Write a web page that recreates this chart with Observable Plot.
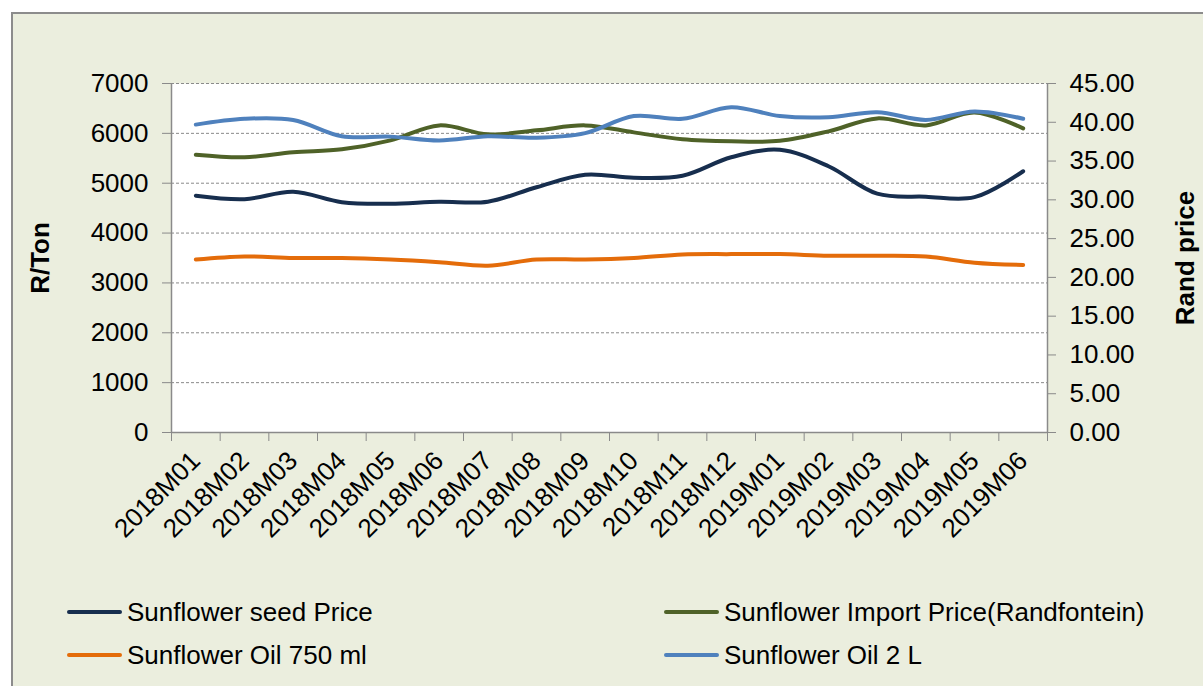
<!DOCTYPE html>
<html>
<head>
<meta charset="utf-8">
<script src="https://cdn.jsdelivr.net/npm/d3@7"></script>
<script src="https://cdn.jsdelivr.net/npm/@observablehq/plot@0.6"></script>
<style>
  html, body { margin: 0; padding: 0; background: #ffffff; width: 1203px; height: 686px; overflow: hidden; }
  #frame { position: absolute; left: 11px; top: 12px; width: 1300px; height: 800px;
           background: #ebeede; border-left: 2px solid #8c8c8c; border-top: 2px solid #8c8c8c; }
  #chart { position: absolute; left: 0; top: 0; }
  .leg { position: absolute; font-family: "Liberation Sans", Arial, sans-serif; font-size: 26px; color: #000;
         white-space: nowrap; line-height: 26px; }
  .leg .sw { position: absolute; height: 4px; border-radius: 2px; }
</style>
</head>
<body>
<div id="frame"></div>
<div id="chart"></div>
<div id="legend"></div>
<script>
const categories = ["2018M01","2018M02","2018M03","2018M04","2018M05","2018M06","2018M07","2018M08","2018M09",
                    "2018M10","2018M11","2018M12","2019M01","2019M02","2019M03","2019M04","2019M05","2019M06"];
// left axis (R/Ton)
const seedPrice   = [4750,4680,4830,4620,4590,4630,4630,4920,5170,5110,5150,5520,5670,5340,4790,4730,4720,5240];
const importPrice = [5570,5520,5620,5680,5860,6160,5980,6060,6160,6020,5880,5840,5850,6040,6300,6160,6420,6100];
// right axis (Rand price)
const oil750 = [22.3,22.7,22.5,22.5,22.3,21.95,21.5,22.3,22.3,22.5,22.95,23.0,23.0,22.8,22.8,22.7,21.9,21.6];
const oil2L  = [39.7,40.45,40.3,38.2,38.15,37.65,38.2,38.0,38.6,40.8,40.45,41.95,40.8,40.65,41.3,40.3,41.4,40.45];

const seriesNames = ["Sunflower seed Price","Sunflower Import Price(Randfontein)","Sunflower Oil 750 ml","Sunflower Oil 2 L"];
const seriesColors = ["#172e4e","#4f6228","#e46c0a","#4f81bd"];
const leftTicks = [0,1000,2000,3000,4000,5000,6000,7000];
const rightTicks = [0,5,10,15,20,25,30,35,40,45];

const K = 7000 / 45; // right-axis to left-axis units
const seriesData = [
  {name: seriesNames[0], values: seedPrice, right: false},
  {name: seriesNames[1], values: importPrice, right: false},
  {name: seriesNames[2], values: oil750, right: true},
  {name: seriesNames[3], values: oil2L, right: true}
];
const rows = [];
seriesData.forEach(s => s.values.forEach((v, i) => rows.push({series: s.name, x: i + 0.5, y: s.right ? v * K : v})));

const W = 1203, H = 590;
const grey = "#8a8a8a";
const font = "'Liberation Sans', Arial, sans-serif";
const FS = 26;

const chart = Plot.plot({
  width: W, height: H,
  marginLeft: 171, marginRight: W - 1047, marginTop: 83, marginBottom: H - 432,
  style: {background: "transparent", fontFamily: font, fontSize: FS + "px", color: "#000", overflow: "visible"},
  x: {domain: [0, categories.length], axis: null},
  y: {domain: [0, 7000], axis: null},
  color: {domain: seriesNames, range: seriesColors},
  marks: [
    Plot.frame({fill: "white", stroke: null}),
    Plot.gridY({ticks: leftTicks.slice(1), stroke: grey, strokeOpacity: 1, strokeWidth: 1, strokeDasharray: "3,2"}),
    Plot.axisY({ticks: leftTicks, tickSize: 9, tickPadding: 14, stroke: grey, fill: "#000",
                tickFormat: d => String(d), label: null, fontSize: FS}),
    Plot.axisY({anchor: "right", ticks: rightTicks.map(t => t * K), tickSize: 8, tickPadding: 14, stroke: grey, fill: "#000",
                tickFormat: d => (d / K).toFixed(2), label: null, fontSize: FS}),
    Plot.ruleX([0, categories.length], {stroke: grey, strokeWidth: 1.5}),
    Plot.ruleY([0], {stroke: grey, strokeWidth: 1.5}),
    Plot.axisX({ticks: d3.range(0, categories.length + 1), tickSize: 9, stroke: grey, tickFormat: () => "", label: null}),
    Plot.axisX({ticks: categories.map((c, i) => i + 0.5), tickSize: 0, tickRotate: -45, tickPadding: 24, fill: "#000",
                tickFormat: d => categories[Math.floor(d)], label: null, fontSize: FS}),
    Plot.line(rows, {x: "x", y: "y", z: "series", stroke: "series", strokeWidth: 4, curve: "catmull-rom",
                     strokeLinecap: "round", strokeLinejoin: "round"}),
    Plot.text(["R/Ton"], {text: d => d, frameAnchor: "left", textAnchor: "middle", dx: -131, rotate: -90,
                          fontWeight: "bold", fontSize: FS, fill: "#000"}),
    Plot.text(["Rand price"], {text: d => d, frameAnchor: "right", textAnchor: "middle", dx: 138, rotate: -90,
                               fontWeight: "bold", fontSize: FS, fill: "#000"})
  ]
});
document.getElementById("chart").appendChild(chart);

// legend
const legendPos = [
  {x: 67, y: 612}, {x: 664, y: 612}, {x: 67, y: 655}, {x: 664, y: 655}
];
const legend = document.getElementById("legend");
seriesNames.forEach((name, i) => {
  const p = legendPos[i];
  const item = document.createElement("div");
  item.className = "leg";
  item.style.left = p.x + "px";
  item.style.top = (p.y - 13) + "px";
  item.innerHTML = `<span class="sw" style="left:0;top:11px;width:55px;background:${seriesColors[i]}"></span>` +
                   `<span style="position:absolute;left:60px;top:0">${name}</span>`;
  legend.appendChild(item);
});
</script>
</body>
</html>
